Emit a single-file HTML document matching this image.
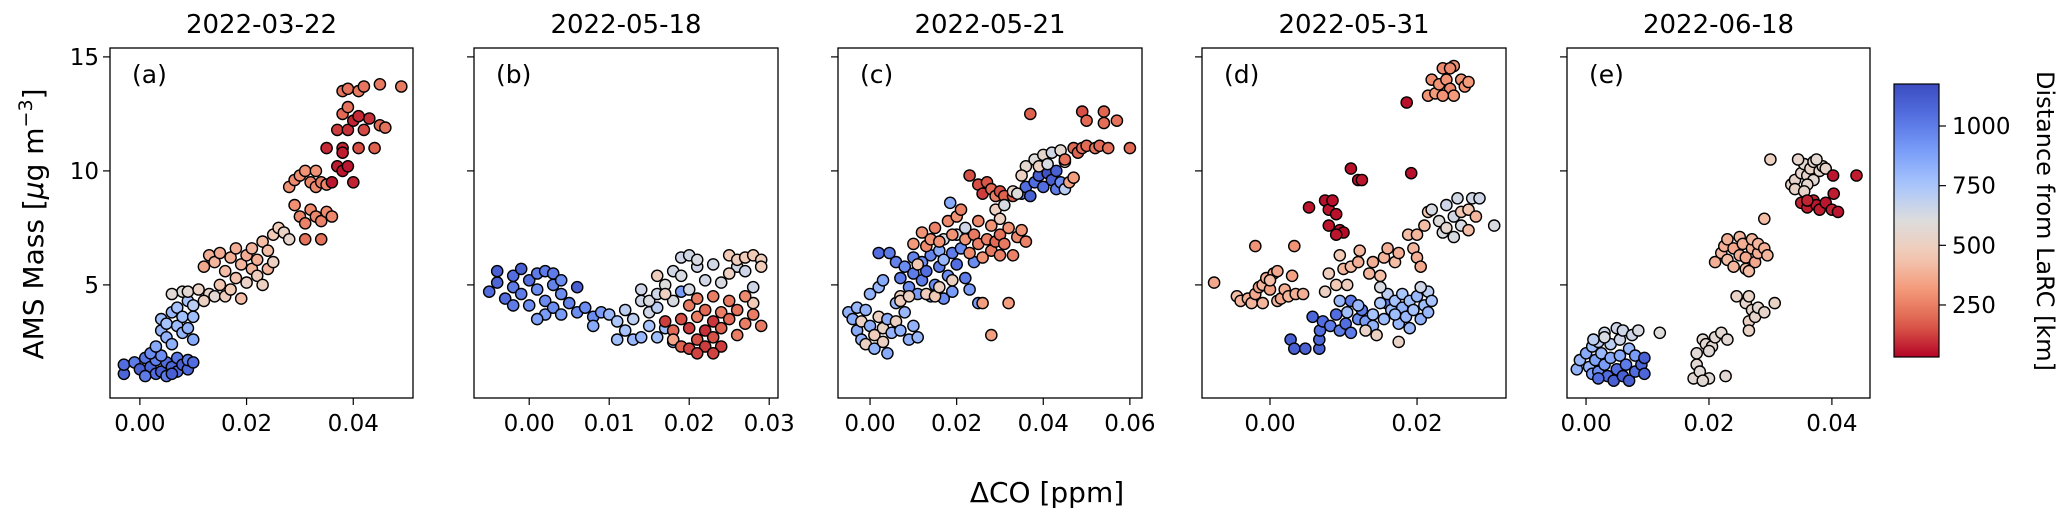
<!DOCTYPE html>
<html><head><meta charset="utf-8"><title>AMS Mass vs ΔCO</title>
<style>
html,body{margin:0;padding:0;background:#fff;}
svg{display:block;font-family:"DejaVu Sans","Liberation Sans",sans-serif;}
</style></head>
<body>
<svg id="chart" xmlns="http://www.w3.org/2000/svg" width="2067" height="519" viewBox="0 0 2067 519">
<rect x="0" y="0" width="2067" height="519" fill="#fff"/>
<text x="0" y="0" transform="translate(43,224) rotate(-90)" text-anchor="middle" font-size="28">AMS Mass [<tspan font-style="italic">μ</tspan>g m<tspan baseline-shift="super" font-size="19">−3</tspan>]</text>
<text x="1047" y="502" text-anchor="middle" font-size="28">ΔCO [ppm]</text>
<g id="panels"></g>
<defs><linearGradient id="cbgrad" x1="0" y1="1" x2="0" y2="0"></linearGradient></defs>
<g id="cbar"></g>
</svg>
<script>
// ---- data: [ΔCO ppm, AMS mass µg m-3, distance km] ----
const panelTitles = ["2022-03-22","2022-05-18","2022-05-21","2022-05-31","2022-06-18"];
const panelLetters = ["(a)","(b)","(c)","(d)","(e)"];
const xTicksA = [0,0.02,0.04];
const xTicksB = [0,0.01,0.02,0.03];
const xTicksC = [0,0.02,0.04,0.06];
const xTicksD = [0,0.02];
const xTicksE = [0,0.02,0.04];
const yTicks = [5,10,15];
const cbarTicks = [250,500,750,1000];
const pointsA = [
[-0.003,1.1,1080],[-0.003,1.5,1050],[-0.001,1.6,1000],[0.000,1.3,1100],[0.001,1.8,1020],[0.002,1.4,1080],[0.003,1.1,1050],[0.003,1.7,990],[0.004,1.2,1100],[0.005,1.6,1060],[0.005,1.0,1000],[0.006,1.4,1080],[0.007,1.2,1050],[0.007,1.8,1020],[0.008,1.5,1100],[0.009,1.3,1070],[0.009,1.7,1000],[0.010,1.6,1050],[0.001,1.0,1000],[0.006,1.1,1100],[0.004,1.9,950],[0.002,2.0,950],
[0.003,2.3,850],[0.004,3.0,820],[0.004,3.5,780],[0.005,2.7,820],[0.005,3.3,760],[0.006,3.8,800],[0.006,2.4,830],[0.007,3.2,790],[0.007,4.0,760],[0.008,2.9,810],[0.008,3.6,770],[0.009,4.3,760],[0.009,3.1,820],[0.010,3.6,780],[0.010,2.6,850],[0.008,4.7,600],[0.006,4.6,580],[0.010,4.1,700],
[0.009,4.7,560],[0.011,4.8,520],[0.013,4.6,540],[0.012,4.3,500],[0.014,4.5,560],
[0.012,5.8,360],[0.013,6.3,380],[0.014,6.0,400],[0.015,5.0,450],[0.015,6.4,370],[0.016,4.5,480],[0.016,5.6,420],[0.017,6.2,380],[0.017,4.8,460],[0.018,5.3,440],[0.018,6.6,380],[0.019,5.9,400],[0.019,4.4,420],[0.020,6.3,370],[0.020,5.1,520],[0.021,5.7,390],[0.021,6.6,400],[0.022,5.4,480],[0.022,6.1,380],[0.023,5.0,500],[0.023,6.9,420],[0.024,5.7,400],[0.024,6.5,420],[0.025,7.2,460],[0.025,6.0,500],[0.026,7.5,470],[0.027,7.3,520],[0.028,7.0,540],
[0.028,9.3,300],[0.029,9.6,280],[0.030,9.8,290],[0.031,10.0,300],[0.032,9.5,270],[0.033,9.3,280],[0.033,10.0,300],[0.029,8.5,290],[0.030,8.0,270],[0.031,7.7,260],[0.032,8.3,280],[0.033,8.0,270],[0.034,7.8,260],[0.035,8.2,280],[0.036,8.0,270],[0.031,7.0,220],[0.034,7.0,220],[0.034,9.5,250],[0.035,9.4,270],
[0.036,9.5,60],[0.037,10.2,70],[0.038,10.0,60],[0.040,9.5,80],[0.035,11.0,90],[0.037,11.8,120],[0.038,11.0,80],[0.039,11.8,100],[0.040,12.2,80],[0.041,11.0,150],[0.042,11.8,140],[0.043,12.3,100],[0.044,11.0,180],[0.045,12.0,200],[0.046,11.9,220],[0.038,12.5,200],[0.039,12.8,220],[0.041,12.4,90],[0.038,13.5,230],[0.039,13.6,220],[0.041,13.5,240],[0.042,13.7,230],[0.045,13.8,240],[0.049,13.7,240],[0.038,10.8,70],[0.039,10.2,60]
];
const pointsB = [
[-0.005,4.7,1050],[-0.004,5.1,1080],[-0.004,5.6,1100],[-0.003,4.4,1050],[-0.002,4.9,1000],[-0.002,5.4,1050],[-0.001,5.7,1100],[-0.001,4.6,1000],[0.000,5.2,1050],[0.000,4.1,950],[0.001,5.5,1000],[0.001,4.8,950],[0.002,5.6,1000],[0.002,4.3,950],[0.002,3.7,900],[0.003,5.0,980],[0.003,5.5,1000],[0.003,4.0,950],[0.004,4.6,950],[0.004,3.7,900],[0.005,4.2,980],[0.006,3.8,950],[0.006,4.9,1100],[0.007,4.0,950],[0.008,3.6,950],[0.009,3.8,900],[0.008,3.2,850],[0.001,3.5,880],[-0.002,4.1,1000],[0.004,5.2,950],
[0.010,3.7,800],[0.011,3.4,750],[0.011,2.6,780],[0.012,3.9,700],[0.012,3.0,760],[0.013,2.6,800],[0.013,3.5,700],[0.014,4.3,650],[0.014,2.7,800],[0.015,3.2,760],[0.015,3.8,650],[0.016,2.7,780],[0.016,4.0,700],[0.017,3.1,780],[0.018,2.5,800],[0.019,4.7,900],
[0.014,4.8,650],[0.015,4.3,620],[0.016,4.6,640],[0.017,5.0,600],[0.018,5.6,640],[0.019,6.2,650],[0.020,6.3,640],[0.019,5.4,620],[0.021,5.8,650],[0.021,6.1,620],[0.022,5.2,640],[0.023,5.9,640],[0.024,5.1,620],[0.026,5.8,640],[0.027,5.6,650],[0.028,4.9,650],[0.018,4.3,620],[0.020,4.8,630],
[0.016,5.4,480],[0.017,4.6,500],[0.025,6.3,460],[0.026,6.1,480],[0.027,6.2,470],[0.028,6.3,460],[0.029,6.1,480],[0.029,5.8,470],[0.025,5.5,500],[0.028,4.2,460],
[0.017,3.4,120],[0.018,3.0,200],[0.018,2.6,350],[0.019,3.5,150],[0.019,2.3,180],[0.020,3.1,120],[0.020,4.1,240],[0.020,2.2,130],[0.021,3.6,250],[0.021,2.6,150],[0.021,4.4,240],[0.022,3.0,100],[0.022,2.3,120],[0.022,3.9,200],[0.023,3.4,110],[0.023,4.5,250],[0.023,2.7,150],[0.024,3.8,250],[0.024,2.3,120],[0.024,3.1,180],[0.025,4.3,240],[0.025,3.5,200],[0.026,2.8,250],[0.026,3.9,220],[0.027,3.3,250],[0.027,4.5,280],[0.028,3.7,250],[0.029,3.2,240],[0.023,2.0,130],[0.021,2.0,130]
];
const pointsC = [
[-0.005,3.8,820],[-0.004,3.5,850],[-0.003,4.0,800],[-0.003,3.0,850],[-0.002,2.6,820],[-0.002,3.4,500],[-0.001,3.9,820],[-0.001,2.4,500],[0.000,3.2,840],[0.000,4.6,820],[0.001,2.8,480],[0.001,2.2,820],[0.002,3.6,500],[0.002,4.9,800],[0.003,3.1,520],[0.003,2.5,500],[0.004,3.5,840],[0.004,2.0,850],[0.005,2.9,820],[0.006,3.4,500],[0.006,4.2,800],[0.007,3.0,820],[0.008,3.8,800],[0.009,2.6,830],[0.010,3.2,820],[0.011,2.7,800],[0.003,5.2,850],[0.007,4.5,500],
[0.002,6.4,1050],[0.0045,6.4,1000],[0.006,6.0,980],[0.007,5.3,1000],[0.008,5.8,950],[0.009,4.9,950],[0.010,5.5,1000],[0.010,6.2,980],[0.011,4.6,900],[0.012,5.2,1000],[0.012,6.0,950],[0.013,5.6,1050],[0.014,4.5,900],[0.014,6.3,980],[0.015,5.0,950],[0.016,5.8,1000],[0.016,6.5,850],[0.017,4.4,950],[0.017,6.1,800],[0.018,5.4,950],[0.019,6.4,1000],[0.019,4.7,900],[0.020,5.9,1050],[0.021,6.6,950],[0.022,5.3,1000],[0.023,4.8,900],[0.024,6.0,950],[0.025,4.2,900],[0.0185,8.6,850],
[0.007,4.3,480],[0.009,4.5,500],[0.011,5.9,450],[0.013,4.6,480],[0.015,4.5,460],[0.016,4.9,500],[0.019,5.2,500],[0.017,7.0,620],[0.020,7.2,640],[0.022,7.5,650],
[0.010,6.8,320],[0.012,7.3,300],[0.013,6.7,280],[0.014,7.0,300],[0.015,7.5,260],[0.016,6.9,300],[0.018,7.8,280],[0.019,7.2,300],[0.020,8.0,300],[0.021,8.3,260],[0.022,7.0,300],[0.023,6.4,280],[0.024,7.2,240],[0.025,6.8,260],[0.025,7.8,280],[0.026,6.2,300],[0.027,7.0,260],[0.028,6.5,240],[0.028,7.6,300],[0.029,6.9,200],[0.030,6.3,260],[0.030,7.2,220],[0.031,6.8,240],[0.032,7.5,300],[0.033,6.3,260],[0.034,7.1,280],[0.035,7.4,300],[0.036,6.9,260],[0.032,4.2,330],[0.028,2.8,330],[0.026,4.2,330],
[0.023,9.8,150],[0.025,9.4,150],[0.026,9.0,120],[0.027,9.5,160],[0.028,9.2,200],[0.029,8.9,250],[0.030,9.1,150],[0.031,8.9,180],[0.033,8.9,180],[0.029,8.3,500],[0.031,8.5,620],[0.030,7.9,500],
[0.035,9.0,1000],[0.036,9.3,1050],[0.037,8.9,1100],[0.038,9.5,1050],[0.039,9.8,1100],[0.040,9.3,1050],[0.041,9.9,1150],[0.042,9.6,1100],[0.043,10.0,1100],[0.043,9.2,1000],[0.044,9.5,950],[0.045,9.2,700],[0.033,9.1,550],[0.034,9.0,600],
[0.036,10.2,550],[0.038,10.5,600],[0.039,10.2,500],[0.040,10.7,540],[0.041,10.3,620],[0.042,10.8,640],[0.044,10.9,560],[0.045,10.4,480],[0.046,9.5,350],[0.047,9.7,330],[0.035,9.8,500],
[0.047,11.0,200],[0.048,10.8,180],[0.049,11.0,220],[0.050,11.1,200],[0.052,11.0,230],[0.053,11.1,200],[0.055,11.0,220],[0.060,11.0,200],[0.045,10.5,220],[0.037,12.5,180],[0.049,12.6,150],[0.050,12.2,200],[0.054,12.6,190],[0.054,12.1,210],[0.057,12.2,220]
];
const pointsD = [
[-0.0076,5.1,360],[-0.0045,4.5,420],[-0.004,4.3,400],[-0.003,4.4,380],[-0.0025,4.2,400],[-0.002,4.6,360],[-0.0015,4.9,340],[-0.001,5.0,400],[-0.0005,5.3,380],[0.000,4.8,340],[0.0005,5.5,360],[0.000,5.2,420],[0.001,4.3,400],[0.0015,4.4,360],[0.002,4.8,380],[0.0025,4.5,400],[0.003,5.4,340],[0.0035,4.6,380],[-0.001,4.2,400],[0.001,5.6,360],[-0.002,6.7,300],[0.0033,6.7,300],[0.0045,4.6,380],
[0.0053,8.4,60],[0.0075,8.7,50],[0.008,8.3,60],[0.0085,8.7,50],[0.008,7.6,60],[0.009,8.1,50],[0.0095,7.4,60],[0.010,7.3,40],[0.009,7.2,60],[0.011,10.1,50],[0.012,9.6,50],[0.0125,9.6,60],[0.0192,9.9,50],[0.0186,13.0,50],
[0.0215,13.3,300],[0.022,14.0,280],[0.0225,13.4,320],[0.023,13.8,300],[0.0235,14.5,280],[0.024,14.0,300],[0.0245,13.6,280],[0.025,14.6,300],[0.025,13.3,320],[0.026,14.0,300],[0.0265,13.7,300],[0.027,13.9,320],[0.0245,14.5,280],[0.0235,13.3,300],
[0.0028,2.6,1100],[0.0033,2.2,1100],[0.0048,2.2,1100],[0.0067,2.2,1100],[0.0067,2.6,1080],[0.0068,3.0,1050],[0.0058,3.6,1080],[0.0072,3.4,1050],[0.0082,3.2,1000],[0.009,3.7,1050],[0.0095,3.0,1000],[0.0103,3.3,1050],[0.011,2.9,1000],[0.012,3.5,950],[0.0125,3.9,1000],[0.011,4.3,1000],[0.013,3.4,900],[0.0158,4.2,1000],
[0.0095,4.3,800],[0.0105,3.8,780],[0.012,4.1,800],[0.014,3.7,760],[0.015,4.2,750],[0.0155,3.5,780],[0.016,4.6,700],[0.0165,3.9,780],[0.017,4.3,760],[0.0175,3.3,800],[0.018,4.6,750],[0.018,4.0,820],[0.0185,3.6,800],[0.019,4.3,780],[0.0195,3.9,760],[0.020,4.5,800],[0.0205,3.5,820],[0.021,4.1,780],[0.0215,3.8,800],[0.0215,4.7,700],[0.022,4.3,760],[0.019,3.1,800],[0.017,3.7,780],[0.014,3.2,820],[0.0205,4.9,650],[0.015,4.9,620],
[0.0075,4.7,500],[0.008,5.5,480],[0.009,5.0,460],[0.0095,6.3,460],[0.010,5.7,400],[0.0105,5.0,480],[0.011,5.8,420],[0.012,6.0,380],[0.0122,6.5,400],[0.0135,5.5,400],[0.014,6.0,380],[0.015,5.4,420],[0.0155,6.2,400],[0.016,6.6,380],[0.017,6.0,420],[0.0175,6.4,380],[0.0195,6.6,400],[0.020,6.2,380],[0.0205,5.8,360],[0.0145,2.8,500],[0.0175,2.5,520],[0.013,3.0,520],
[0.0188,7.2,420],[0.020,7.2,400],[0.021,7.6,420],[0.0215,8.2,450],[0.022,8.3,620],[0.023,7.8,600],[0.0235,7.3,620],[0.024,8.5,650],[0.024,7.5,550],[0.025,8.0,640],[0.025,7.1,620],[0.0255,8.8,640],[0.026,8.2,450],[0.026,7.6,620],[0.027,8.3,450],[0.027,7.4,420],[0.0275,8.8,640],[0.028,8.0,400],[0.0285,8.8,650],[0.0305,7.6,620]
];
const pointsE = [
[-0.0015,1.3,820],[-0.001,1.7,800],[0.000,2.0,850],[0.0005,1.4,820],[0.001,2.3,780],[0.001,1.1,900],[0.0015,1.7,880],[0.002,2.5,700],[0.002,1.2,950],[0.0025,2.0,800],[0.003,2.9,650],[0.003,1.5,900],[0.0035,1.0,1050],[0.004,2.4,700],[0.004,1.8,850],[0.0045,0.8,1100],[0.005,3.1,650],[0.005,1.3,1050],[0.0055,2.6,650],[0.0055,1.9,850],[0.006,1.0,1100],[0.006,3.0,650],[0.0065,1.5,1000],[0.007,2.2,800],[0.007,0.8,1100],[0.0075,2.8,650],[0.008,1.2,1050],[0.008,1.9,900],[0.0085,3.0,620],[0.009,1.5,1080],[0.0095,1.8,1100],[0.0095,1.1,1080],[0.003,2.7,620],[0.0012,2.6,700],[0.012,2.9,600],[0.002,0.9,1050],
[0.0175,0.9,570],[0.018,1.5,560],[0.018,2.0,580],[0.0185,1.2,580],[0.019,2.6,560],[0.0195,2.4,570],[0.020,0.9,580],[0.0205,2.3,560],[0.021,2.7,570],[0.022,2.9,560],[0.0227,1.0,570],[0.023,2.6,560],[0.020,2.1,580],[0.019,0.8,570],
[0.0245,4.5,520],[0.026,4.2,540],[0.0265,4.5,520],[0.027,3.9,540],[0.0265,3.4,520],[0.0275,3.6,540],[0.028,4.0,560],[0.0265,3.0,520],[0.0307,4.2,520],[0.029,3.8,540],
[0.021,6.0,380],[0.022,6.4,400],[0.0225,6.7,380],[0.023,6.1,420],[0.023,7.0,380],[0.024,6.6,360],[0.024,5.8,400],[0.025,6.3,380],[0.025,7.1,400],[0.0255,6.8,380],[0.026,6.2,360],[0.026,5.7,420],[0.027,6.6,380],[0.027,7.0,400],[0.0275,6.0,360],[0.028,6.4,380],[0.028,6.8,400],[0.029,6.6,380],[0.0265,5.6,420],[0.0295,6.3,400],[0.029,7.9,420],[0.030,10.5,500],
[0.0334,9.4,520],[0.034,9.6,540],[0.035,9.9,550],[0.0355,10.3,560],[0.036,9.8,540],[0.0365,10.1,520],[0.037,10.4,540],[0.037,9.6,560],[0.038,10.0,550],[0.0385,10.2,540],[0.036,9.4,550],[0.0375,10.5,560],[0.039,10.1,540],[0.034,9.2,520],[0.0345,10.5,540],[0.0355,9.1,540],
[0.035,8.6,80],[0.036,8.4,70],[0.037,8.7,80],[0.0375,8.5,60],[0.038,8.3,70],[0.039,8.6,60],[0.040,8.3,80],[0.041,8.2,60],[0.0403,9.0,70],[0.0402,9.8,60],[0.044,9.8,70],[0.036,8.7,80]
];

// ---- layout (pixels) ----
const NS = "http://www.w3.org/2000/svg";
const layout = [
  {left:110,right:413,xmin:-0.0056,xmax:0.0512,ticks:xTicksA,pts:pointsA},
  {left:474,right:778,xmin:-0.0069,xmax:0.0311,ticks:xTicksB,pts:pointsB},
  {left:838,right:1142,xmin:-0.0074,xmax:0.0628,ticks:xTicksC,pts:pointsC},
  {left:1202,right:1506,xmin:-0.00925,xmax:0.0321,ticks:xTicksD,pts:pointsD},
  {left:1567,right:1870,xmin:-0.0031,xmax:0.0462,ticks:xTicksE,pts:pointsE}
];
const TOP = 48, BOTTOM = 398, YMIN = 0.04, YMAX = 15.39;
const CMIN = 32, CMAX = 1176;
function yScale(v){ return BOTTOM - (v - YMIN) / (YMAX - YMIN) * (BOTTOM - TOP); }
function xScaleFor(p){ return v => p.left + (v - p.xmin) / (p.xmax - p.xmin) * (p.right - p.left); }

const cw = [[0,59,76,192],[0.125,85,114,227],[0.25,123,159,249],[0.375,170,199,253],[0.5,221,220,220],[0.625,242,203,183],[0.75,244,154,123],[0.875,222,96,77],[1,180,4,38]];
function cwColor(t){
  t = Math.max(0, Math.min(1, t));
  for (let i = 1; i < cw.length; i++) {
    if (t <= cw[i][0]) {
      const a = cw[i-1], b = cw[i], f = (t - a[0]) / (b[0] - a[0]);
      return "rgb(" + [1,2,3].map(k => Math.round(a[k] + (b[k] - a[k]) * f)).join(",") + ")";
    }
  }
  return "rgb(180,4,38)";
}
function distColor(d){ return cwColor(1 - (d - CMIN) / (CMAX - CMIN)); }
function el(tag, attrs, parent){
  const e = document.createElementNS(NS, tag);
  for (const k in attrs) e.setAttribute(k, attrs[k]);
  parent.appendChild(e);
  return e;
}

const panelsG = document.getElementById("panels");
layout.forEach((p, i) => {
  const xs = xScaleFor(p);
  const g = el("g", {}, panelsG);
  
  
  const title = el("text", {x:(p.left+p.right)/2, y:33, "text-anchor":"middle", "font-size":"26"}, g);
  title.textContent = panelTitles[i];
  
  
  const clipId = "clip" + i;
  const cp = el("clipPath", {id:clipId}, g);
  el("rect", {x:p.left, y:TOP, width:p.right-p.left, height:BOTTOM-TOP}, cp);
  const pg = el("g", {"clip-path":"url(#" + clipId + ")"}, g);
  
  
  p.pts.forEach(pt => {
    const c = el("circle", {cx:xs(pt[0]).toFixed(1), cy:yScale(pt[1]).toFixed(1), r:5.6, fill:distColor(pt[2]), stroke:"#000", "stroke-width":1.4}, pg);
    
    
  });
  const frame = el("rect", {x:p.left, y:TOP, width:p.right-p.left, height:BOTTOM-TOP, fill:"none", stroke:"#000", "stroke-width":1.3}, g);
  
  
  const lab = el("text", {x:p.left+22, y:83, "font-size":"25"}, g);
  lab.textContent = panelLetters[i];
  
  
  p.ticks.forEach(t => {
    const x = xs(t);
    const tk = el("line", {x1:x, y1:BOTTOM, x2:x, y2:BOTTOM+7, stroke:"#000", "stroke-width":1.2}, g);
    
    
    const tl = el("text", {x:x, y:BOTTOM+33, "text-anchor":"middle", "font-size":"23"}, g);
    tl.textContent = t.toFixed(2);
    
    
  });
  yTicks.forEach(t => {
    const y = yScale(t);
    const tk = el("line", {x1:p.left-7, y1:y, x2:p.left, y2:y, stroke:"#000", "stroke-width":1.2}, g);
    
    
    if (i === 0) {
      const tl = el("text", {x:p.left-11, y:y+8, "text-anchor":"end", "font-size":"23"}, g);
      tl.textContent = String(t);
      
      
    }
  });
});

// colorbar
const CB = {left:1894, right:1939, top:84, bottom:357};
const grad = document.getElementById("cbgrad");
for (let k = 0; k <= 20; k++) {
  const t = k / 20;
  el("stop", {offset:t, "stop-color":cwColor(1 - t)}, grad);
}
const cbG = document.getElementById("cbar");


const cbRect = el("rect", {x:CB.left, y:CB.top, width:CB.right-CB.left, height:CB.bottom-CB.top, fill:"url(#cbgrad)", stroke:"#000", "stroke-width":1.2}, cbG);


function cbY(v){ return CB.bottom - (v - CMIN) / (CMAX - CMIN) * (CB.bottom - CB.top); }
cbarTicks.forEach(t => {
  const y = cbY(t);
  const tk = el("line", {x1:CB.right, y1:y, x2:CB.right+7, y2:y, stroke:"#000", "stroke-width":1.2}, cbG);
  
  
  const tl = el("text", {x:CB.right+13, y:y+8, "font-size":"23"}, cbG);
  tl.textContent = String(t);
  
  
});
const cbTitle = el("text", {transform:"translate(2037,221) rotate(90)", "text-anchor":"middle", "font-size":"24"}, cbG);
cbTitle.textContent = "Distance from LaRC [km]";


</script>
</body></html>
